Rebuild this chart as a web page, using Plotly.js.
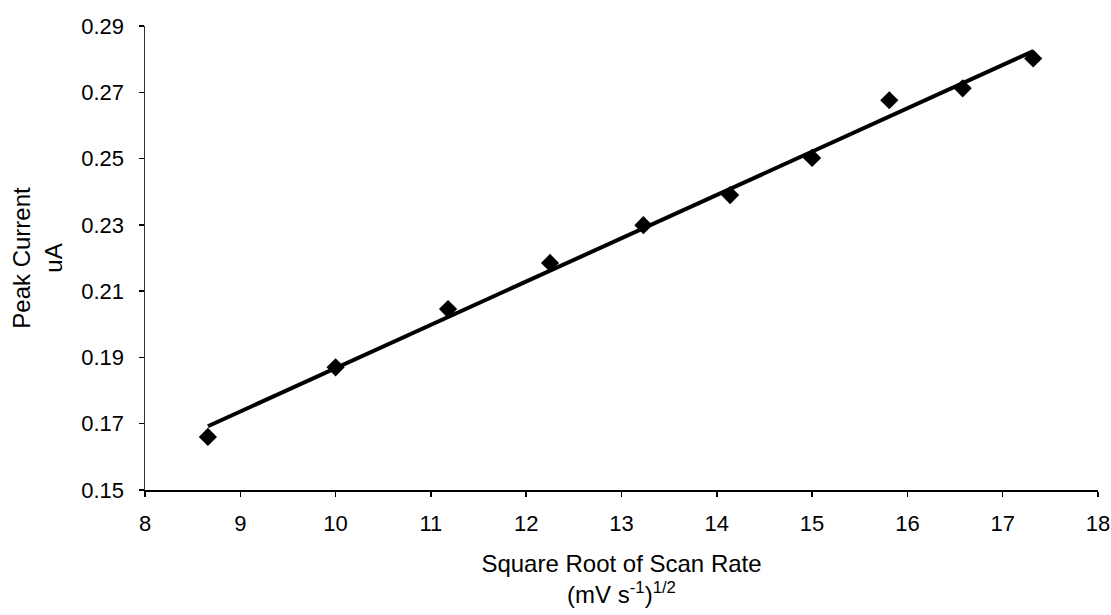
<!DOCTYPE html>
<html>
<head>
<meta charset="utf-8">
<script src="https://cdn.plot.ly/plotly-3.0.1.min.js"></script>
<style>html,body{margin:0;padding:0;background:#fff;}#chart{width:1111px;height:615px;}</style>
</head>
<body>
<div id="chart"></div>
<script>
const sqrtScanRate = [8.66, 10.0, 11.18, 12.25, 13.23, 14.14, 15.0, 15.81, 16.58, 17.32];
const peakCurrent = [0.166, 0.187, 0.2046, 0.2185, 0.2299, 0.239, 0.2502, 0.2676, 0.2712, 0.2802];
const yTicks = [0.15, 0.17, 0.19, 0.21, 0.23, 0.25, 0.27, 0.29];
const xTicks = [8, 9, 10, 11, 12, 13, 14, 15, 16, 17, 18];

// least-squares trend line from the data
const n = sqrtScanRate.length;
const mx = sqrtScanRate.reduce((a, b) => a + b, 0) / n;
const my = peakCurrent.reduce((a, b) => a + b, 0) / n;
let sxy = 0, sxx = 0;
for (let i = 0; i < n; i++) {
  sxy += (sqrtScanRate[i] - mx) * (peakCurrent[i] - my);
  sxx += (sqrtScanRate[i] - mx) ** 2;
}
const slope = sxy / sxx;
const icpt = my - slope * mx;
const fitX = [Math.min(...sqrtScanRate), Math.max(...sqrtScanRate)];
const fitY = fitX.map(x => icpt + slope * x);

const fam = 'Liberation Sans, Arial, sans-serif';
const tickFont = {family: fam, size: 22, color: '#000'};
const titleFont = {family: fam, size: 24, color: '#000'};

const data = [
  {x: fitX, y: fitY, mode: 'lines', line: {color: '#000', width: 4}, hoverinfo: 'skip'},
  {x: sqrtScanRate, y: peakCurrent, mode: 'markers',
   marker: {symbol: 'diamond', size: 14, color: '#000'}}
];

const layout = {
  width: 1111, height: 615,
  margin: {l: 145, r: 13, t: 26, b: 125},
  paper_bgcolor: '#fff', plot_bgcolor: '#fff',
  showlegend: false,
  font: tickFont,
  xaxis: {
    range: [8, 18], tickvals: xTicks, ticktext: xTicks.map(String),
    showgrid: false, zeroline: false, showline: true, linecolor: '#000', linewidth: 1.5,
    ticks: 'outside', ticklen: 5, tickcolor: '#000', tickwidth: 1.5,
    ticklabelstandoff: 8,
    tickfont: tickFont,
    title: {text: 'Square Root of Scan Rate<br>(mV s<sup>-1</sup>)<sup>1/2</sup>', font: titleFont, standoff: 20}
  },
  yaxis: {
    range: [0.15, 0.29], tickvals: yTicks, ticktext: yTicks.map(v => v.toFixed(2)),
    showgrid: false, zeroline: false, showline: true, linecolor: '#333', linewidth: 1.5,
    ticks: 'outside', ticklen: 5, tickcolor: '#000', tickwidth: 1.5,
    ticklabelstandoff: 10,
    tickfont: tickFont,
    title: {text: 'Peak Current<br>uA', font: titleFont, standoff: 12}
  }
};

Plotly.newPlot('chart', data, layout, {displayModeBar: false, staticPlot: true});
</script>
</body>
</html>
